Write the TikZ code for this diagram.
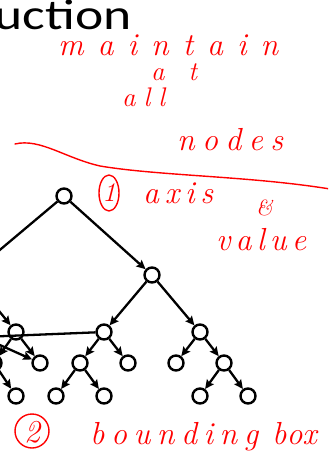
\documentclass[tikz,border=0pt]{standalone}
\usepackage{fontspec}
\usetikzlibrary{arrows.meta}
\newfontfamily\titlefont{Carlito}
\newfontfamily\hand{Latin Modern Roman}
% spread the letters of a word over a given width, like loose handwriting
\newcommand\spreadword[2]{\makebox[#1][s]{#2}}

\begin{document}
\begin{tikzpicture}[x=1bp,y=-1bp,
  vert/.style={circle, draw, line width=2.4bp, minimum size=15bp, inner sep=0pt},
  link/.style={line width=2.3bp, -{Stealth[length=9bp,width=8.5bp,inset=1.5bp]}},
  bare/.style={line width=2.3bp},
  ink/.style={text=red, inner sep=0pt, anchor=base west,
              font=\hand\itshape\fontsize{32}{32}\selectfont},
  midink/.style={ink, font=\hand\itshape\fontsize{27}{27}\selectfont},
  smallink/.style={ink, font=\hand\itshape\fontsize{22}{22}\selectfont},
  pen/.style={red, line width=1.4bp, line cap=round}]
\useasboundingbox (0,0) rectangle (328,462);
\clip (0,0) rectangle (328,462);

% heading, cut at the left edge
\node[anchor=base east, inner sep=0pt] (title) at (132,30)
  {\scalebox{1.25}[1]{\fontsize{43}{43}\selectfont\titlefont uction}};

% tree
\node[vert] (root) at (64,196) {};
\node[vert] (L)    at (-30,275) {};
\node[vert] (R)    at (152,275) {};
\node[vert] (LR)   at (16,332) {};
\node[vert] (RL)   at (104,332) {};
\node[vert] (RR)   at (200,332) {};
\node[vert] (LRL)  at (-6,363) {};
\node[vert] (LRR)  at (40,363) {};
\node[vert] (RLL)  at (80,363) {};
\node[vert] (RLR)  at (128,363) {};
\node[vert] (RRL)  at (176,363) {};
\node[vert] (RRR)  at (224,363) {};
\node[vert] (LRLR) at (16,396) {};
\node[vert] (RLLL) at (56,396) {};
\node[vert] (RLLR) at (104,396) {};
\node[vert] (RRRL) at (200,396) {};
\node[vert] (RRRR) at (248,396) {};

\draw[link] (root) -- (L);
\draw[link] (root) -- (R);
\draw[link] (L) -- (LR);
\draw[link] (R) -- (RL);
\draw[link] (R) -- (RR);
\draw[link] (LR) -- (LRL);
\draw[link] (LR) -- (LRR);
\draw[link] (RL) -- (RLL);
\draw[link] (RL) -- (RLR);
\draw[link] (RR) -- (RRL);
\draw[link] (RR) -- (RRR);
\draw[link] (LRL) -- (LRLR);
\draw[link] (RLL) -- (RLLL);
\draw[link] (RLL) -- (RLLR);
\draw[link] (RRR) -- (RRRL);
\draw[link] (RRR) -- (RRRR);

% cross pointers entering from the left
\coordinate (src) at (-18,337);
\draw[bare] (src) -- (RL);
\draw[link] (src) -- (LRR);

% red notes
\node[ink] (w1) at (58,56) {\spreadword{220bp}{m\hfil a\hfil i\hfil n\hfil t\hfil a\hfil i\hfil n}};
\node[midink] (w2) at (151,81) {\spreadword{46bp}{a\hfil t}};
\node[midink] (w3) at (122,107) {\spreadword{43bp}{a\hfil l\hfil l}};
\node[ink] (w4) at (177,151) {\spreadword{106bp}{n\hfil o\hfil d\hfil e\hfil s}};
\draw[pen] (15,144) .. controls (40,138) and (65,158) .. (100,166)
  .. controls (160,176) and (250,176) .. (330,189);

\draw[pen] (109,193) ellipse [x radius=10, y radius=18];
\node[midink, anchor=base] (n1) at (109,202) {1};
\node[ink] (w5) at (143,204) {\spreadword{70bp}{a\hfil x\hfil i\hfil s}};
\node[smallink] (w6) at (256,216) {\&};
\node[ink] (w7) at (216,250) {\spreadword{90bp}{v\hfil a\hfil l\hfil u\hfil e}};

\draw[pen] (32,431) circle [radius=17];
\node[ink, anchor=base] (n2) at (32,442) {2};
\node[ink] (w8) at (90,444) {\spreadword{168bp}{b\hfil o\hfil u\hfil n\hfil d\hfil i\hfil n\hfil g}};
\node[ink] (w9) at (272,444) {\spreadword{44bp}{b\hfil o\hfil x}};
\end{tikzpicture}
\end{document}
